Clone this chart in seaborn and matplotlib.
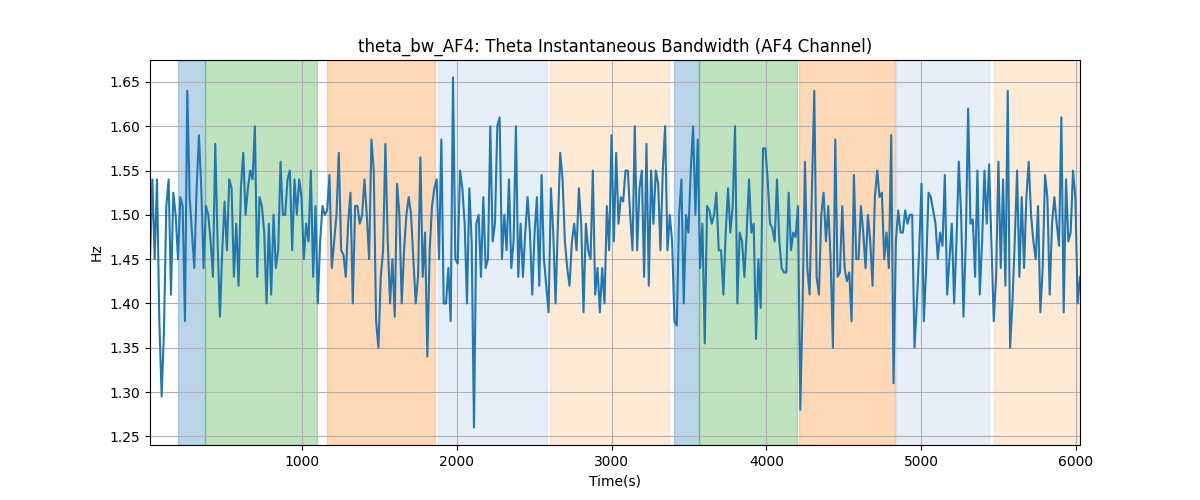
import numpy as np
import matplotlib
matplotlib.use("Agg")
import matplotlib.pyplot as plt
import seaborn as sns

# ---- data ----
seg1 = [1.45, 1.54, 1.45, 1.54, 1.38, 1.295, 1.37, 1.51, 1.54, 1.41,
        1.525, 1.50, 1.45, 1.52, 1.51, 1.38, 1.64, 1.52, 1.48, 1.44,
        1.53, 1.59, 1.53, 1.44, 1.51, 1.50, 1.47, 1.43, 1.58, 1.47,
        1.385, 1.46, 1.515, 1.46, 1.54, 1.53, 1.43, 1.49, 1.42, 1.53,
        1.57, 1.50, 1.53, 1.55, 1.54, 1.60, 1.43, 1.52, 1.51, 1.48,
        1.40, 1.49, 1.41, 1.50, 1.44, 1.46, 1.56, 1.50, 1.50, 1.54,
        1.55, 1.46, 1.54, 1.50]
seg2 = [1.54, 1.52, 1.45, 1.49, 1.47, 1.55, 1.43, 1.51, 1.40, 1.47,
        1.51, 1.50, 1.505, 1.545, 1.44, 1.47, 1.50, 1.57, 1.46, 1.455,
        1.43, 1.49, 1.525, 1.40, 1.51, 1.51, 1.49, 1.50, 1.54, 1.50,
        1.45, 1.585, 1.55, 1.38, 1.35, 1.43, 1.46, 1.58, 1.47, 1.40,
        1.45, 1.385, 1.535, 1.50, 1.40, 1.46, 1.50, 1.52, 1.50, 1.45,
        1.40, 1.43, 1.565, 1.43, 1.48, 1.34, 1.46, 1.51, 1.53, 1.54,
        1.45, 1.585, 1.40, 1.40, 1.44, 1.38, 1.655]
seg3 = [1.45, 1.445, 1.55, 1.53, 1.49, 1.40, 1.53, 1.47, 1.26, 1.49,
        1.50, 1.43, 1.52, 1.44, 1.45, 1.60, 1.47, 1.49, 1.60, 1.61,
        1.45, 1.50, 1.46, 1.54, 1.44, 1.47, 1.60, 1.43, 1.49, 1.43,
        1.48, 1.52, 1.48, 1.41, 1.48, 1.52, 1.42, 1.545, 1.45, 1.42,
        1.39, 1.53, 1.48, 1.40, 1.49, 1.57, 1.54, 1.47, 1.44, 1.42,
        1.47, 1.49, 1.46, 1.53, 1.49, 1.39, 1.49, 1.46, 1.45, 1.55,
        1.41, 1.44, 1.39, 1.44, 1.40, 1.51, 1.46, 1.59, 1.47]
seg4 = [1.57, 1.49, 1.52, 1.515, 1.55, 1.55, 1.50, 1.46, 1.60, 1.46,
        1.53, 1.55, 1.43, 1.58, 1.42, 1.55, 1.49, 1.55, 1.535, 1.46,
        1.55, 1.60, 1.46, 1.50, 1.47, 1.38, 1.375, 1.50, 1.54, 1.40,
        1.50, 1.48, 1.55, 1.60, 1.50, 1.585, 1.44, 1.49, 1.355, 1.51,
        1.505, 1.49, 1.50, 1.525, 1.46, 1.46, 1.41, 1.48, 1.53, 1.48,
        1.51, 1.60, 1.40, 1.48, 1.47, 1.43, 1.48, 1.54, 1.48, 1.49,
        1.36, 1.45, 1.395, 1.575, 1.575, 1.54, 1.49]
seg5 = [1.485, 1.47, 1.54, 1.47, 1.44, 1.435, 1.435, 1.525, 1.46, 1.48,
        1.475, 1.51, 1.28, 1.40, 1.56, 1.44, 1.41, 1.53, 1.64, 1.43,
        1.41, 1.50, 1.525, 1.47, 1.51, 1.45, 1.35, 1.585, 1.43, 1.435,
        1.51, 1.44, 1.425, 1.435, 1.38, 1.545, 1.45, 1.45, 1.51, 1.48,
        1.44, 1.50, 1.47, 1.42, 1.52, 1.55, 1.52, 1.525, 1.45, 1.48,
        1.44, 1.59, 1.31, 1.47, 1.505, 1.48, 1.48, 1.505, 1.49, 1.50,
        1.50, 1.35, 1.40, 1.46, 1.535]
seg6 = [1.38, 1.44, 1.525, 1.52, 1.505, 1.49, 1.45, 1.48, 1.465, 1.545,
        1.41, 1.45, 1.49, 1.40, 1.47, 1.56, 1.50, 1.385, 1.47, 1.62,
        1.49, 1.495, 1.43, 1.55, 1.41, 1.47, 1.55, 1.49, 1.557, 1.47,
        1.38, 1.43, 1.56, 1.44, 1.54, 1.42, 1.64, 1.35, 1.40, 1.47,
        1.55, 1.43, 1.52, 1.44, 1.52, 1.56, 1.50, 1.47, 1.45, 1.51,
        1.39, 1.44, 1.545, 1.52, 1.41, 1.49, 1.52, 1.49, 1.465, 1.61,
        1.39, 1.54, 1.47, 1.48, 1.55, 1.52, 1.40, 1.43]

values = np.array(seg1 + seg2 + seg3 + seg4 + seg5 + seg6)
t_start, t_end = 16, 6027
time = np.linspace(t_start, t_end, len(values))

# shaded segments: (start, end, kind)
span_starts = [196, 373, 1160, 1875, 2601, 3403, 3564, 4209, 4838, 5471]
span_ends = [373, 1093, 1858, 2580, 3372, 3564, 4200, 4831, 5439, 6027]
span_kinds = ["blue", "green", "orange", "lightblue", "lightorange",
              "blue", "green", "orange", "lightblue", "lightorange"]
kind_colors = {"blue": "#1f77b4", "green": "#2ca02c", "orange": "#ff7f0e",
               "lightblue": "#aec7e8", "lightorange": "#ffbb78"}

title = "theta_bw_AF4: Theta Instantaneous Bandwidth (AF4 Channel)"

# ---- plot ----
fig, ax = plt.subplots(figsize=(12, 5), dpi=100)
for s, e, k in zip(span_starts, span_ends, span_kinds):
    ax.axvspan(s, e, color=kind_colors[k], alpha=0.3)
sns.lineplot(x=time, y=values, ax=ax, color="#1f77b4", linewidth=1.5)
ax.set_xlim(time.min(), time.max())
ax.set_title(title)
ax.set_xlabel("Time(s)")
ax.set_ylabel("Hz")
ax.grid(True)
fig.savefig("out.png", dpi=100)
